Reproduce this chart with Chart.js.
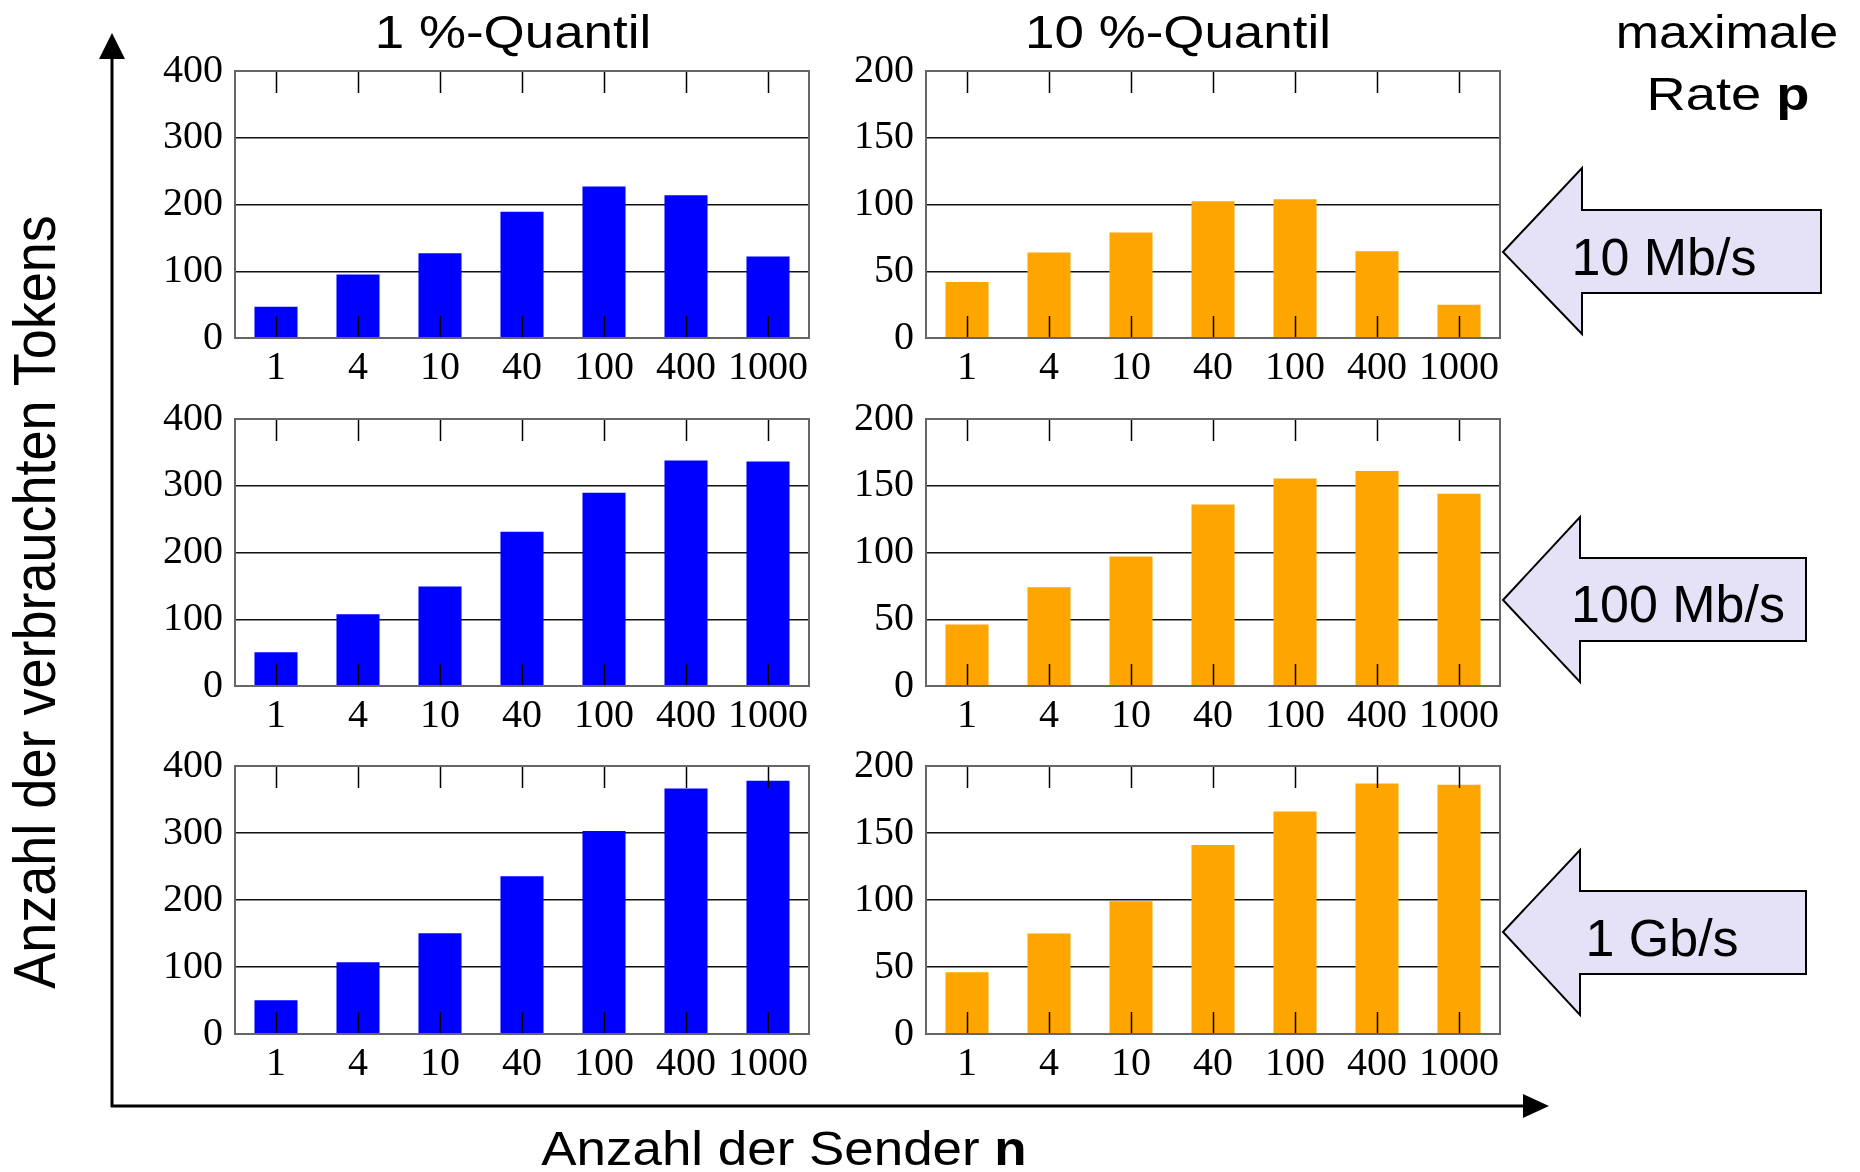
<!DOCTYPE html>
<html>
<head>
<meta charset="utf-8">
<script src="https://cdn.jsdelivr.net/npm/chart.js@4.4.1/dist/chart.umd.min.js"></script>
<style>
  body { margin: 0; background: #fff; }
  #page { position: relative; width: 1860px; height: 1172px; overflow: hidden; font-family: 'Liberation Sans', Arial, sans-serif; }
  canvas.panel { position: absolute; }
  .lbl { position: absolute; white-space: nowrap; line-height: 1; color: #000; }
  svg { position: absolute; left: 0; top: 0; }
</style>
</head>
<body>
<div id="page">
  <svg width="1860" height="1172">
    <!-- big axes -->
    <line x1="112" y1="1107" x2="112" y2="56" stroke="#000" stroke-width="3"/>
    <polygon points="112,33 99,59 125,59" fill="#000"/>
    <line x1="111" y1="1106" x2="1526" y2="1106" stroke="#000" stroke-width="3"/>
    <polygon points="1549,1106 1523,1094 1523,1118" fill="#000"/>
    <!-- rate arrows -->
    <polygon points="1503,252 1582,168 1582,210 1821,210 1821,293 1582,293 1582,334" fill="#e5e2f7" stroke="#000" stroke-width="2"/>
    <polygon points="1503,600 1580,517 1580,558 1806,558 1806,641 1580,641 1580,682" fill="#e5e2f7" stroke="#000" stroke-width="2"/>
    <polygon points="1503,932 1580,850 1580,891 1806,891 1806,974 1580,974 1580,1015" fill="#e5e2f7" stroke="#000" stroke-width="2"/>
  </svg>

  <canvas class="panel" id="c11" width="669" height="362" style="left:150px;top:31px"></canvas>
  <canvas class="panel" id="c12" width="669" height="362" style="left:841px;top:31px"></canvas>
  <canvas class="panel" id="c21" width="669" height="362" style="left:150px;top:379px"></canvas>
  <canvas class="panel" id="c22" width="669" height="362" style="left:841px;top:379px"></canvas>
  <canvas class="panel" id="c31" width="669" height="363" style="left:150px;top:726px"></canvas>
  <canvas class="panel" id="c32" width="669" height="363" style="left:841px;top:726px"></canvas>

  <div class="lbl" style="left:513px;top:32px;font-size:46px;transform:translate(-50%,-50%) scaleX(1.15)">1 %-Quantil</div>
  <div class="lbl" style="left:1178px;top:32px;font-size:46px;transform:translate(-50%,-50%) scaleX(1.15)">10 %-Quantil</div>
  <div class="lbl" style="left:1727px;top:32px;font-size:46px;transform:translate(-50%,-50%) scaleX(1.13)">maximale</div>
  <div class="lbl" style="left:1728px;top:94px;font-size:46px;transform:translate(-50%,-50%) scaleX(1.18)">Rate <b>p</b></div>

  <div class="lbl" style="left:1664px;top:257px;font-size:52px;transform:translate(-50%,-50%)">10 Mb/s</div>
  <div class="lbl" style="left:1678px;top:604px;font-size:52px;transform:translate(-50%,-50%)">100 Mb/s</div>
  <div class="lbl" style="left:1662px;top:938px;font-size:52px;transform:translate(-50%,-50%)">1 Gb/s</div>

  <div class="lbl" style="left:784px;top:1148px;font-size:49px;transform:translate(-50%,-50%) scaleX(1.08)">Anzahl der Sender <b>n</b></div>
  <div class="lbl" style="left:34px;top:602px;font-size:54px;transform:translate(-50%,-50%) rotate(-90deg) scaleY(1.08)">Anzahl der verbrauchten Tokens</div>
</div>

<script>
// number of senders n
const senders = ['1', '4', '10', '40', '100', '400', '1000'];

// tokens used, 1 % quantile (left column)
const q1_10mb = [47, 95, 127, 189, 227, 214, 122];
const q1_100mb = [50.5, 107.5, 149, 231, 289.5, 338, 336.5];
const q1_1gb = [50.5, 107, 150.5, 235.5, 303, 366.5, 378];

// tokens used, 10 % quantile (right column)
const q10_10mb = [42, 64, 79, 102.5, 104, 65, 25];
const q10_100mb = [46, 74, 97, 136, 155.5, 161, 144];
const q10_1gb = [46, 75, 99, 141, 166, 187, 186];

// y ticks
const ticksQ1 = [0, 100, 200, 300, 400];
const ticksQ10 = [0, 50, 100, 150, 200];

const BLUE = '#0000ff';
const ORANGE = '#ffa500';

// frame and the little inside tick marks
const frameTicks = {
  id: 'frameTicks',
  afterDatasetsDraw(chart) {
    const { ctx, chartArea: a, scales: { x } } = chart;
    ctx.save();
    ctx.strokeStyle = '#000';
    ctx.lineWidth = 1.5;
    x.ticks.forEach((t, i) => {
      const px = Math.round(x.getPixelForTick(i)) + 0.5;
      ctx.beginPath();
      ctx.moveTo(px, a.top);
      ctx.lineTo(px, a.top + 22);
      ctx.moveTo(px, a.bottom);
      ctx.lineTo(px, a.bottom - 22);
      ctx.stroke();
    });
    ctx.strokeStyle = '#666';
    ctx.lineWidth = 2;
    ctx.strokeRect(a.left, a.top, a.width, a.height);
    ctx.restore();
  }
};

function makePanel(id, values, color, yTicks) {
  const tickFont = { family: "'Liberation Serif', 'Times New Roman', serif", size: 40 };
  return new Chart(document.getElementById(id), {
    type: 'bar',
    data: {
      labels: senders,
      datasets: [{
        data: values,
        backgroundColor: color,
        borderWidth: 0,
        barPercentage: 0.525,
        categoryPercentage: 1
      }]
    },
    options: {
      responsive: false,
      animation: false,
      devicePixelRatio: 1,
      layout: { padding: { top: 40, right: 10, bottom: 0, left: 0 } },
      plugins: { legend: { display: false }, tooltip: { enabled: false } },
      scales: {
        x: {
          offset: true,
          grid: { display: false, drawTicks: false },
          border: { display: false },
          ticks: { font: tickFont, color: '#000', padding: 6, maxRotation: 0, autoSkip: false },
          afterFit: (s) => { s.height = 55; }
        },
        y: {
          min: yTicks[0],
          max: yTicks[yTicks.length - 1],
          afterBuildTicks: (s) => { s.ticks = yTicks.map(v => ({ value: v })); },
          grid: { color: '#111', lineWidth: 1.5, drawTicks: false },
          border: { display: false },
          ticks: { font: tickFont, color: '#000', padding: 12 },
          afterFit: (s) => { s.width = 85; }
        }
      }
    },
    plugins: [frameTicks]
  });
}

makePanel('c11', q1_10mb, BLUE, ticksQ1);
makePanel('c12', q10_10mb, ORANGE, ticksQ10);
makePanel('c21', q1_100mb, BLUE, ticksQ1);
makePanel('c22', q10_100mb, ORANGE, ticksQ10);
makePanel('c31', q1_1gb, BLUE, ticksQ1);
makePanel('c32', q10_1gb, ORANGE, ticksQ10);
</script>
</body>
</html>
